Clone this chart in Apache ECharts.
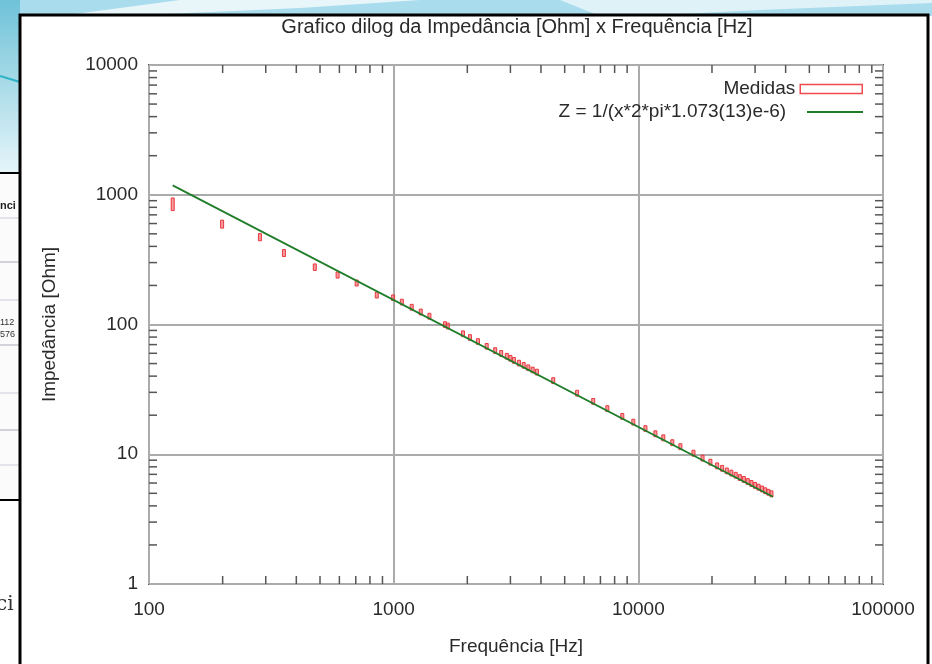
<!DOCTYPE html>
<html>
<head>
<meta charset="utf-8">
<script src="https://cdn.jsdelivr.net/npm/echarts@6/dist/echarts.min.js"></script>
<style>
html,body{margin:0;padding:0;background:#fff;}
#chart{width:932px;height:664px;}
</style>
</head>
<body>
<div id="chart"></div>
<script>
// ---- data ----
const titleText = 'Grafico dilog da Impedância [Ohm] x Frequência [Hz]';
const xName = 'Frequência [Hz]';
const yName = 'Impedância [Ohm]';
const measName = 'Medidas';
const fitName = 'Z = 1/(x*2*pi*1.073(13)e-6)';

// measured frequency [Hz]
const freq = [125, 199, 284, 356, 476, 590, 706, 853, 995, 1080, 1185, 1290, 1400, 1620, 1665, 1920, 2050, 2210, 2400,
  2600, 2750, 2900, 3000, 3100, 3250, 3400, 3550, 3700, 3850, 4490, 5620, 6540, 7470, 8600, 9540, 10690, 11740,
  12650, 13770, 14850, 16800, 18300, 19700, 21000, 22000, 23000, 24000, 25000, 26000, 27000, 28000, 29000, 30000,
  31000, 32000, 33000, 34000, 35000];
// measured impedance [Ohm]
const imped = [850, 595, 472, 356, 277, 241, 209, 169, 161, 149, 136, 125, 116, 100, 97.5, 85, 79.5, 74, 68,
  63, 60, 57, 55, 53, 50.5, 48.5, 46.5, 44.7, 43, 37, 29.6, 25.6, 22.5, 19.6, 17.7, 15.8, 14.4,
  13.4, 12.3, 11.45, 10.2, 9.35, 8.7, 8.15, 7.8, 7.45, 7.17, 6.9, 6.62, 6.4, 6.17, 5.96, 5.76,
  5.58, 5.41, 5.24, 5.1, 4.96];
// error half-height [Ohm]
const impErr = [95, 42, 30, 22, 16, 13, 11, 9, 8, 7.5, 7, 6.5, 6, 5, 5, 4.3, 4, 3.7, 3.4,
  3.2, 3, 2.9, 2.8, 2.7, 2.5, 2.4, 2.3, 2.2, 2.2, 1.9, 1.5, 1.3, 1.15, 1.0, 0.9, 0.8, 0.75,
  0.7, 0.63, 0.6, 0.53, 0.48, 0.45, 0.42, 0.4, 0.38, 0.37, 0.35, 0.34, 0.33, 0.32, 0.31, 0.3,
  0.29, 0.28, 0.27, 0.26, 0.26];

// fitted line end points
const fitFreq = [125, 35500];
const fitZ = [1180, 4.7];

// axis ranges and minor ticks
const xMin = 100, xMax = 100000;
const yMin = 1, yMax = 10000;
const xMinor = [200,300,400,500,600,700,800,900,2000,3000,4000,5000,6000,7000,8000,9000,
  20000,30000,40000,50000,60000,70000,80000,90000];
const yMinor = [2,3,4,5,6,7,8,9,20,30,40,50,60,70,80,90,200,300,400,500,600,700,800,900,
  2000,3000,4000,5000,6000,7000,8000,9000];

const FONT = 'Liberation Sans, Arial, sans-serif';
const TXT = '#2a2a2a';

const chart = echarts.init(document.getElementById('chart'), null, {renderer: 'canvas'});

const option = {
  backgroundColor: '#ffffff',
  animation: false,
  graphic: [
    // slide decoration (top band / left strip)
    {type: 'rect', z: -10, shape: {x: 0, y: 0, width: 932, height: 16}, style: {fill: '#a9dded'}},
    {type: 'rect', z: -10, shape: {x: 0, y: 0, width: 20, height: 173},
      style: {fill: new echarts.graphic.LinearGradient(0, 0, 0, 1, [{offset: 0, color: '#6fc2d8'}, {offset: 1, color: '#e6f5f9'}])}},
    {type: 'polygon', z: -9, shape: {points: [[180, 0], [420, 0], [300, 8], [120, 16], [60, 16]]}, style: {fill: '#e8f6fa'}},
    {type: 'polygon', z: -9, shape: {points: [[560, 0], [932, 0], [932, 3], [760, 10], [640, 16], [600, 16]]}, style: {fill: '#dff2f8'}},
    {type: 'line', z: -8, shape: {x1: 0, y1: 76, x2: 20, y2: 82}, style: {stroke: '#2bb3c7', lineWidth: 2}},
    {type: 'rect', z: -8, shape: {x: 0, y: 173, width: 20, height: 327}, style: {fill: '#fbfbfb'}},
    {type: 'line', z: -7, shape: {x1: 0, y1: 173, x2: 20, y2: 173}, style: {stroke: '#000', lineWidth: 2}},
    {type: 'line', z: -7, shape: {x1: 0, y1: 500, x2: 20, y2: 500}, style: {stroke: '#000', lineWidth: 2}},
    {type: 'text', z: -7, style: {x: 0, y: 200, text: 'nci', fontSize: 11, fontWeight: 'bold', fill: '#222', fontFamily: FONT}},
    {type: 'line', z: -7, shape: {x1: 0, y1: 218, x2: 20, y2: 218}, style: {stroke: '#ccd', lineWidth: 1}},
    {type: 'line', z: -7, shape: {x1: 0, y1: 262, x2: 20, y2: 262}, style: {stroke: '#aab', lineWidth: 1}},
    {type: 'line', z: -7, shape: {x1: 0, y1: 300, x2: 20, y2: 300}, style: {stroke: '#ccd', lineWidth: 1}},
    {type: 'text', z: -7, style: {x: 0, y: 318, text: '112', fontSize: 9, fill: '#333', fontFamily: FONT}},
    {type: 'text', z: -7, style: {x: 0, y: 330, text: '576', fontSize: 9, fill: '#333', fontFamily: FONT}},
    {type: 'line', z: -7, shape: {x1: 0, y1: 345, x2: 20, y2: 345}, style: {stroke: '#aab', lineWidth: 1}},
    {type: 'line', z: -7, shape: {x1: 0, y1: 393, x2: 20, y2: 393}, style: {stroke: '#ccd', lineWidth: 1}},
    {type: 'line', z: -7, shape: {x1: 0, y1: 430, x2: 20, y2: 430}, style: {stroke: '#aab', lineWidth: 1}},
    {type: 'line', z: -7, shape: {x1: 0, y1: 465, x2: 20, y2: 465}, style: {stroke: '#ccd', lineWidth: 1}},
    {type: 'text', z: -7, style: {x: -4, y: 595, text: 'ci', fontSize: 20, fill: '#333', fontFamily: 'DejaVu Serif, serif'}},
    // panel border
    {type: 'rect', z: -5, shape: {x: 20, y: 15, width: 908, height: 660}, style: {fill: '#ffffff', stroke: '#000', lineWidth: 3}}
  ],
  title: {
    text: titleText,
    left: 517, top: 17, textAlign: 'center', padding: 0,
    textStyle: {fontFamily: FONT, fontSize: 20, fontWeight: 'normal', color: TXT}
  },
  legend: [
    {
      data: [{name: measName, icon: 'rect', itemStyle: {color: 'rgba(255,255,255,0)', borderColor: '#f04a50', borderWidth: 1.5}}],
      right: 64, top: 73, align: 'right', orient: 'vertical',
      itemWidth: 62, itemHeight: 9,
      textStyle: {fontFamily: FONT, fontSize: 19, color: TXT, lineHeight: 22},
      selectedMode: false
    },
    {
      data: [{name: fitName, icon: 'rect', itemStyle: {color: '#1f7d2a', borderWidth: 0}}],
      right: 64, top: 96, align: 'right', orient: 'vertical',
      itemWidth: 56, itemHeight: 2,
      formatter: n => n + '   ',
      textStyle: {fontFamily: FONT, fontSize: 19, color: TXT, lineHeight: 22},
      selectedMode: false
    }
  ],
  grid: {left: 149, right: 49, top: 65, bottom: 80, show: true, borderColor: '#505050', borderWidth: 2, backgroundColor: 'transparent'},
  xAxis: {
    type: 'log', logBase: 10, min: xMin, max: xMax,
    name: xName, nameLocation: 'middle', nameGap: 53,
    nameTextStyle: {fontFamily: FONT, fontSize: 19, color: TXT},
    axisLine: {show: false},
    axisTick: {show: false},
    axisLabel: {fontFamily: FONT, fontSize: 19, color: TXT, margin: 16, formatter: v => String(Math.round(v))},
    splitLine: {show: true, lineStyle: {color: '#ababab', width: 2}}
  },
  yAxis: {
    type: 'log', logBase: 10, min: yMin, max: yMax,
    name: yName, nameLocation: 'middle', nameGap: 90,
    nameTextStyle: {fontFamily: FONT, fontSize: 19, color: TXT},
    axisLine: {show: false},
    axisTick: {show: false},
    axisLabel: {fontFamily: FONT, fontSize: 19, color: TXT, margin: 11, formatter: v => String(Math.round(v))},
    splitLine: {show: true, lineStyle: {color: '#ababab', width: 2}}
  },
  series: [
    {
      type: 'custom', name: '_xminor', silent: true, clip: false, z: 3,
      data: xMinor.map(v => [v, yMin]),
      encode: {x: 0, y: 1},
      renderItem: (params, api) => {
        const v = api.value(0);
        const b = api.coord([v, yMin]), t = api.coord([v, yMax]);
        const st = {stroke: '#555', lineWidth: 1.5};
        return {type: 'group', children: [
          {type: 'line', shape: {x1: b[0], y1: b[1], x2: b[0], y2: b[1] - 8}, style: st},
          {type: 'line', shape: {x1: t[0], y1: t[1], x2: t[0], y2: t[1] + 8}, style: st}
        ]};
      }
    },
    {
      type: 'custom', name: '_yminor', silent: true, clip: false, z: 3,
      data: yMinor.map(v => [xMin, v]),
      encode: {x: 0, y: 1},
      renderItem: (params, api) => {
        const v = api.value(1);
        const l = api.coord([xMin, v]), r = api.coord([xMax, v]);
        const st = {stroke: '#555', lineWidth: 1.5};
        return {type: 'group', children: [
          {type: 'line', shape: {x1: l[0], y1: l[1], x2: l[0] + 8, y2: l[1]}, style: st},
          {type: 'line', shape: {x1: r[0], y1: r[1], x2: r[0] - 8, y2: r[1]}, style: st}
        ]};
      }
    },
    {
      type: 'custom', name: measName, z: 4,
      data: freq.map((f, i) => [f, imped[i], impErr[i]]),
      encode: {x: 0, y: 1},
      itemStyle: {color: '#f04a50'},
      renderItem: (params, api) => {
        const f = api.value(0), z = api.value(1), e = api.value(2);
        const top = api.coord([f, z + e]), bot = api.coord([f, z - e]);
        const h = Math.max(bot[1] - top[1], 3);
        return {type: 'rect', shape: {x: top[0] - 1.5, y: top[1], width: 3, height: h},
          style: {fill: 'rgba(240,90,95,0.6)', stroke: '#e8383f', lineWidth: 1}};
      }
    },
    {
      type: 'line', name: fitName, z: 5,
      data: fitFreq.map((f, i) => [f, fitZ[i]]),
      symbol: 'none', showSymbol: false,
      lineStyle: {color: '#1f7d2a', width: 1.8},
      itemStyle: {color: '#1f7d2a'}
    }
  ]
};
chart.setOption(option);
</script>
</body>
</html>
